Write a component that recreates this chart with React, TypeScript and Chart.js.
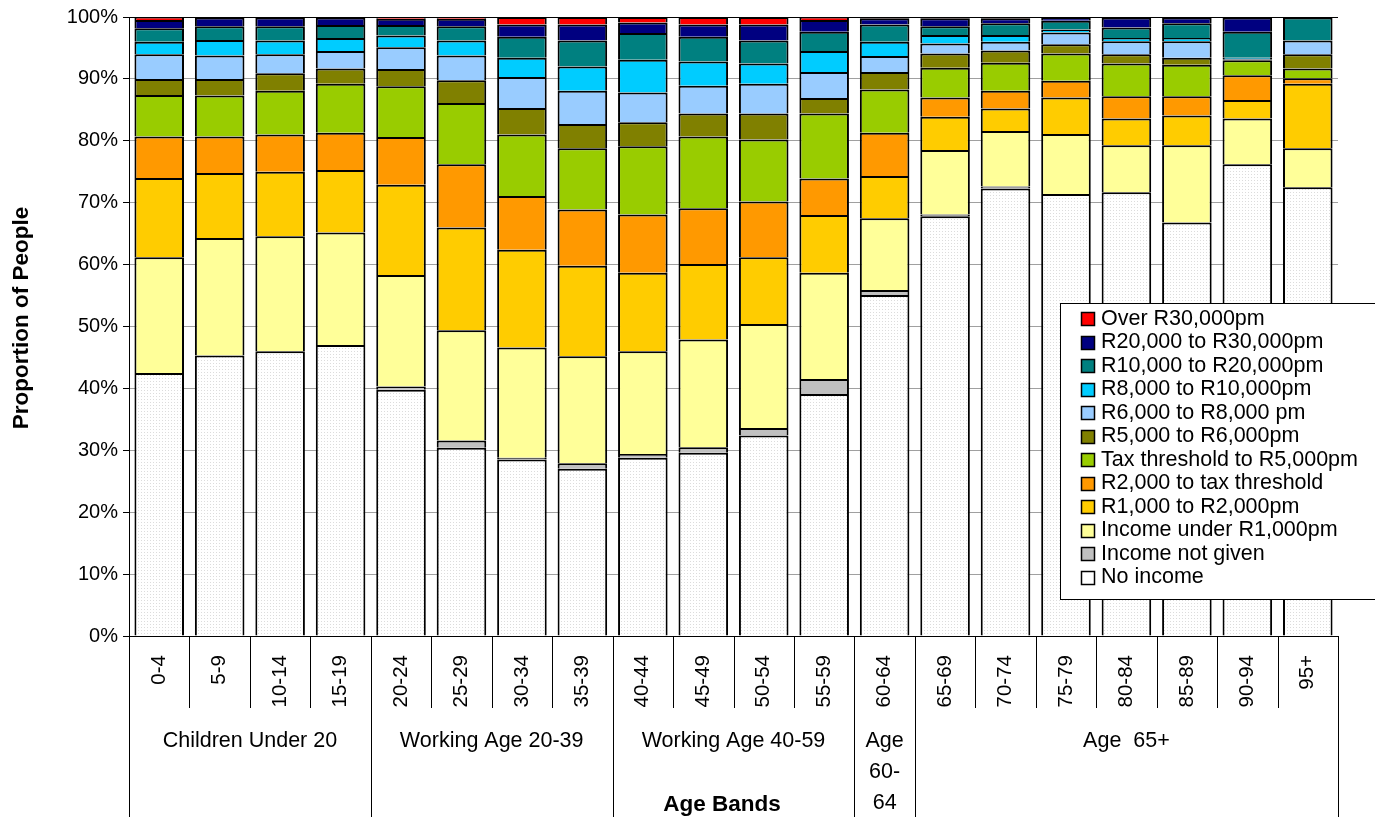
import React, { useEffect, useRef } from "react";
import Chart from "chart.js/auto";

const ageBands = ["0-4", "5-9", "10-14", "15-19", "20-24", "25-29", "30-34", "35-39", "40-44", "45-49", "50-54", "55-59", "60-64", "65-69", "70-74", "75-79", "80-84", "85-89", "90-94", "95+"];

const noIncome = [42.5, 45.3, 46.0, 47.0, 39.8, 30.4, 28.5, 27.0, 28.8, 29.6, 32.4, 39.1, 55.1, 67.8, 72.3, 71.4, 71.7, 66.8, 76.2, 72.5];
const notGiven = [0, 0, 0, 0, 0.5, 1.2, 0.3, 0.9, 0.6, 0.9, 1.2, 2.4, 0.8, 0.3, 0.3, 0, 0, 0, 0, 0];
const under1k = [18.7, 19.0, 18.6, 18.2, 18.0, 17.8, 17.8, 17.3, 16.6, 17.4, 16.8, 17.2, 11.6, 10.4, 9.0, 9.7, 7.6, 12.5, 7.4, 6.3];
const r1to2k = [12.8, 10.5, 10.4, 10.1, 14.6, 16.6, 15.8, 14.6, 12.7, 12.2, 10.8, 9.3, 6.8, 5.4, 3.6, 5.9, 4.3, 4.8, 3.0, 10.4];
const r2kToTax = [6.7, 5.9, 6.0, 6.0, 7.7, 10.2, 8.7, 9.1, 9.4, 9.0, 9.0, 5.9, 7.0, 3.1, 2.9, 2.7, 3.6, 3.1, 4.0, 0.9];
const taxTo5k = [6.7, 6.6, 7.1, 7.9, 8.2, 9.9, 9.9, 9.9, 11.0, 11.6, 10.0, 10.5, 7.0, 4.8, 4.5, 4.4, 5.3, 5.1, 2.4, 1.6];
const r5to6k = [2.6, 2.7, 2.8, 2.5, 2.8, 3.7, 4.3, 3.9, 3.9, 3.7, 4.2, 2.5, 2.8, 2.3, 2.0, 1.5, 1.5, 1.1, 0.1, 2.3];
const r6to8k = [4.0, 3.8, 3.1, 2.8, 3.5, 4.0, 5.0, 5.4, 4.8, 4.5, 4.8, 4.2, 2.6, 1.6, 1.4, 1.9, 2.1, 2.7, 0.1, 2.2];
const r8to10k = [2.0, 2.5, 2.2, 2.1, 1.9, 2.4, 3.1, 3.9, 5.3, 3.9, 3.3, 3.4, 2.3, 1.4, 1.1, 0.5, 0.5, 0.5, 0.2, 0];
const r10to20k = [2.2, 2.2, 2.3, 2.1, 1.7, 2.3, 3.4, 4.2, 4.3, 4.0, 3.7, 3.1, 2.8, 1.4, 1.9, 1.4, 1.7, 2.4, 4.2, 3.7];
const r20to30k = [1.3, 1.4, 1.4, 1.2, 1.0, 1.2, 2.0, 2.6, 1.7, 2.0, 2.6, 1.9, 1.0, 1.3, 0.8, 0.5, 1.6, 0.9, 2.3, 0.1];
const over30k = [0.5, 0.1, 0.1, 0.1, 0.3, 0.3, 1.2, 1.2, 0.9, 1.2, 1.2, 0.5, 0.2, 0.2, 0.2, 0.1, 0.1, 0.1, 0.1, 0];

const seriesNames = ["No income", "Income not given", "Income under R1,000pm", "R1,000 to R2,000pm", "R2,000 to tax threshold", "Tax threshold to R5,000pm", "R5,000 to R6,000pm", "R6,000 to R8,000 pm", "R8,000 to R10,000pm", "R10,000 to R20,000pm", "R20,000 to R30,000pm", "Over R30,000pm"];
const seriesColors = ["#FFFFFF", "#C0C0C0", "#FFFF99", "#FFCC00", "#FF9900", "#99CC00", "#808000", "#99CCFF", "#00CCFF", "#008080", "#000080", "#FF0000"];
const seriesValues = [noIncome, notGiven, under1k, r1to2k, r2kToTax, taxTo5k, r5to6k, r6to8k, r8to10k, r10to20k, r20to30k, over30k];

const yTicks = [0, 10, 20, 30, 40, 50, 60, 70, 80, 90, 100];
const groupLabels = [["Children Under 20"], ["Working Age 20-39"], ["Working Age 40-59"], ["Age", "60-", "64"], ["Age  65+"]];
const groupSizes = [4, 4, 4, 1, 7];

const FONT = '"Liberation Sans", Arial, Helvetica, sans-serif';

export default function App() {
  const canvasRef = useRef<HTMLCanvasElement | null>(null);

  useEffect(() => {
    document.body.style.margin = "0";
    const canvas = canvasRef.current;
    if (!canvas) return;
    const ctx = canvas.getContext("2d")!;

    const pc = document.createElement("canvas");
    pc.width = 3;
    pc.height = 3;
    const pctx = pc.getContext("2d")!;
    pctx.fillStyle = "#FFFFFF";
    pctx.fillRect(0, 0, 3, 3);
    pctx.fillStyle = "#DCDCDC";
    pctx.fillRect(0, 0, 1, 1);
    const dots = ctx.createPattern(pc, "repeat");

    const overlay = {
      id: "overlay",
      afterDraw(chart: any) {
        const c = chart.ctx;
        const area = chart.chartArea;
        const n = ageBands.length;
        const band = (area.right - area.left) / n;
        c.save();
        c.strokeStyle = "#000";
        c.lineWidth = 1;
        const groupEdges: number[] = [0];
        let acc = 0;
        groupSizes.forEach((s) => {
          acc += s;
          groupEdges.push(acc);
        });
        for (let i = 0; i <= n; i++) {
          const xx = Math.round(area.left + i * band) + 0.5;
          const full = groupEdges.includes(i);
          c.beginPath();
          c.moveTo(xx, area.bottom);
          c.lineTo(xx, full ? 817 : 708);
          c.stroke();
        }
        // group labels
        c.fillStyle = "#000";
        c.font = `21.5px ${FONT}`;
        c.textAlign = "center";
        c.textBaseline = "middle";
        let start = 0;
        groupLabels.forEach((lines, gi) => {
          const cx = area.left + (start + groupSizes[gi] / 2) * band;
          lines.forEach((ln, li) => {
            c.fillText(ln, cx, 741 + li * 31);
          });
          start += groupSizes[gi];
        });
        // axis titles
        c.font = `bold 22.5px ${FONT}`;
        c.fillText("Age Bands", 722, 805);
        c.save();
        c.translate(22, 318);
        c.rotate(-Math.PI / 2);
        c.fillText("Proportion of People", 0, 0);
        c.restore();
        // top border
        c.beginPath();
        c.moveTo(area.left, Math.round(area.top) + 0.5);
        c.lineTo(area.right, Math.round(area.top) + 0.5);
        c.stroke();
        // legend
        const lx = 1060.5, ly = 303.5;
        c.fillStyle = "#FFFFFF";
        c.fillRect(lx, ly, 330, 296);
        c.strokeRect(lx, ly, 330, 296);
        c.font = `21.5px ${FONT}`;
        c.textAlign = "left";
        c.textBaseline = "middle";
        for (let k = 0; k < seriesNames.length; k++) {
          const si = seriesNames.length - 1 - k;
          const ry = 319 + k * 23.5;
          c.fillStyle = seriesColors[si];
          c.fillRect(1081.5, Math.round(ry - 7) + 0.5, 13, 13);
          c.strokeStyle = "#000";
          c.lineWidth = 1.5;
          c.strokeRect(1081.5, Math.round(ry - 7) + 0.5, 13, 13);
          c.fillStyle = "#000";
          c.fillText(seriesNames[si], 1101, ry);
        }
        c.restore();
      },
    };

    const chart = new Chart(ctx, {
      type: "bar",
      data: {
        labels: ageBands,
        datasets: seriesValues.map((vals, i) => ({
          label: seriesNames[i],
          data: vals,
          backgroundColor: i === 0 && dots ? dots : seriesColors[i],
          borderColor: "#000",
          borderWidth: 2,
          borderSkipped: "start",
          categoryPercentage: 1,
          barPercentage: 0.82,
        })),
      },
      options: {
        animation: false,
        responsive: true,
        maintainAspectRatio: false,
        layout: { padding: { top: 16, right: 37, bottom: 0, left: 0 } },
        plugins: {
          legend: { display: false },
          tooltip: { enabled: false },
        },
        scales: {
          x: {
            stacked: true,
            grid: { display: false, drawTicks: false, tickLength: 0 },
            border: { display: true, color: "#000", width: 1 },
            ticks: {
              autoSkip: false,
              minRotation: 90,
              maxRotation: 90,
              padding: 19,
              color: "#000",
              font: { family: FONT, size: 20.5 },
            },
            afterFit: (scale: any) => {
              scale.height = 181;
            },
          },
          y: {
            stacked: true,
            min: 0,
            max: 100,
            afterBuildTicks: (scale: any) => {
              scale.ticks = yTicks.map((v) => ({ value: v }));
            },
            grid: {
              color: (c: any) => (c.tick && c.tick.value === 100 ? "#000" : "#A0A0A0"),
              tickColor: "#000",
              tickLength: 6,
            },
            border: { display: true, color: "#000", width: 1 },
            ticks: {
              padding: 5,
              color: "#000",
              font: { family: FONT, size: 20 },
              callback: (v: any) => `${v}%`,
            },
            afterFit: (scale: any) => {
              scale.width = 129;
            },
          },
        },
      },
      plugins: [overlay],
    });

    return () => chart.destroy();
  }, []);

  return (
    <div style={{ width: 1375, height: 817, position: "relative" }}>
      <canvas ref={canvasRef} />
    </div>
  );
}
